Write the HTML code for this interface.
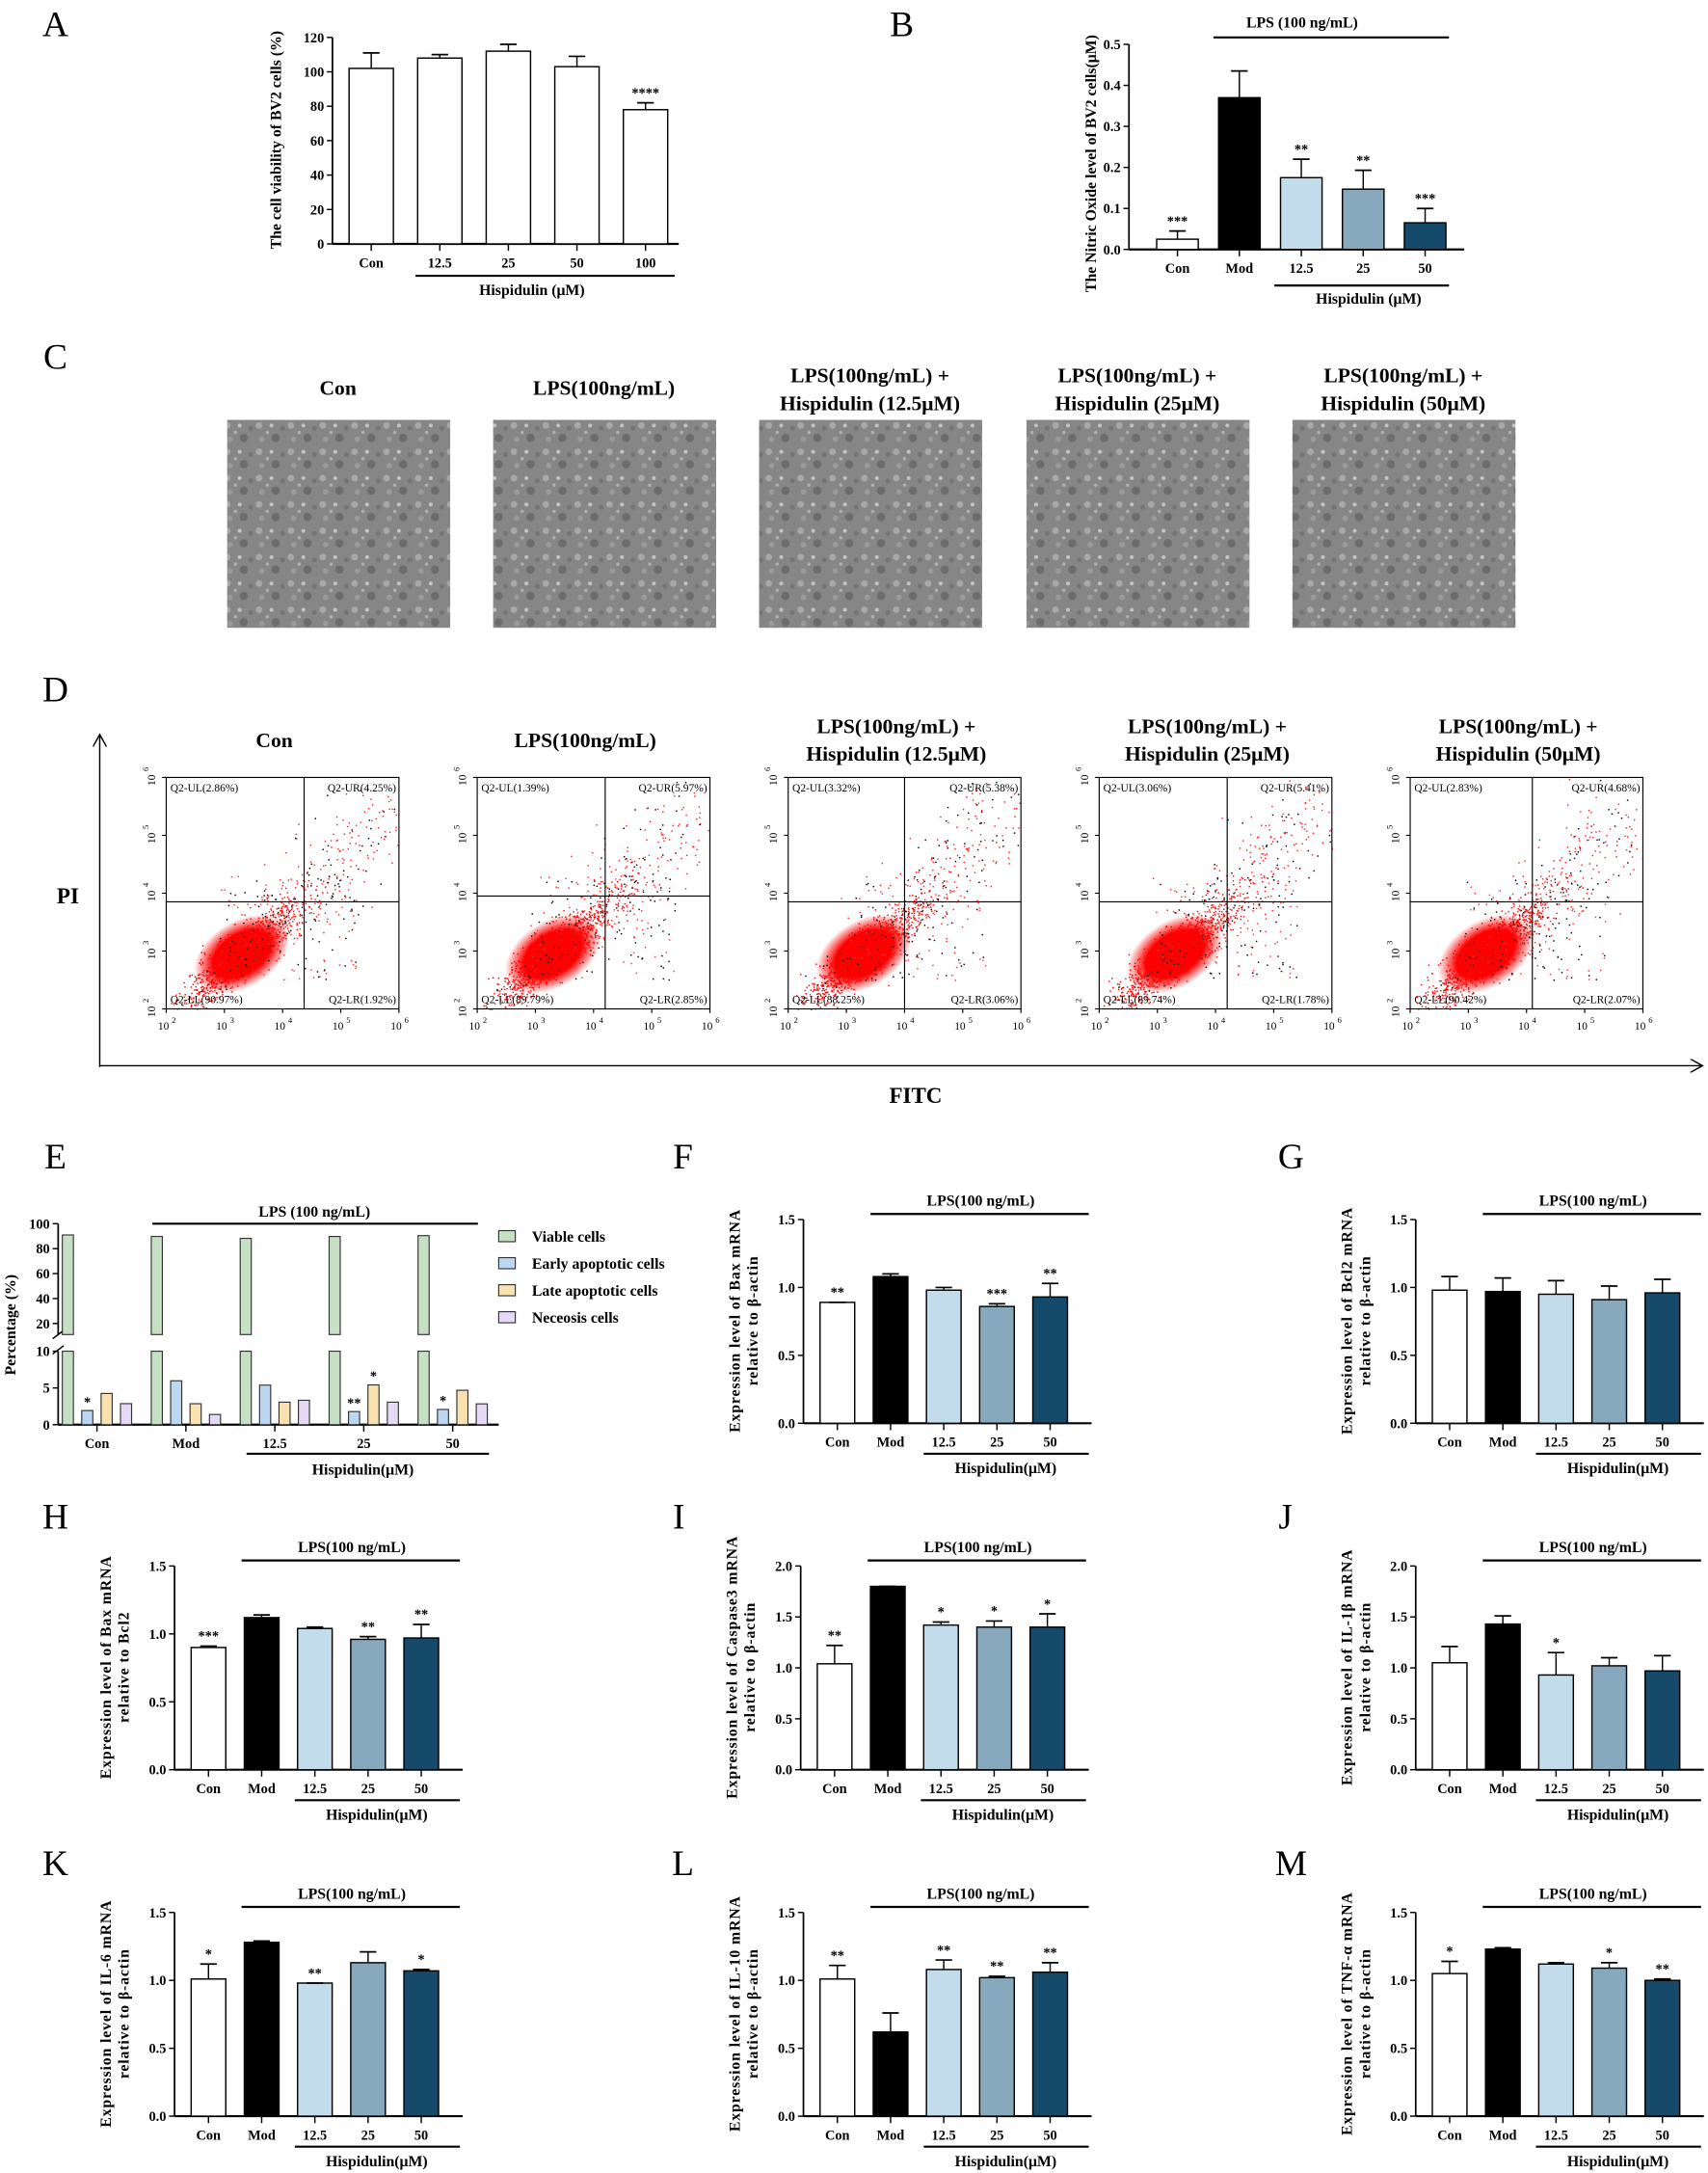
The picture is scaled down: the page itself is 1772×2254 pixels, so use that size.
<!DOCTYPE html>
<html><head><meta charset="utf-8"><style>
html,body{margin:0;padding:0;background:#fff}
svg{display:block}
text{font-family:"Liberation Serif",serif;fill:#000}
</style></head><body>
<svg id="fig" xmlns="http://www.w3.org/2000/svg" width="1772" height="2254" viewBox="0 0 1233 1568" preserveAspectRatio="none">
<defs>
<pattern id="cells" width="23" height="19" patternUnits="userSpaceOnUse">
<rect width="23" height="19" fill="#868686"/>
<circle cx="3" cy="3" r="2.4" fill="#a8a8a8"/><circle cx="15" cy="12" r="3" fill="#6c6c6c"/>
<circle cx="12" cy="3" r="1.4" fill="#c4c4c4"/><circle cx="5" cy="13" r="2" fill="#9a9a9a"/>
<circle cx="20" cy="5" r="1.8" fill="#757575"/><circle cx="9" cy="8" r="1.2" fill="#b0b0b0"/>
</pattern>
<radialGradient id="blob"><stop offset="0" stop-color="#ff0000"/><stop offset="0.6" stop-color="#ff0000"/><stop offset="1" stop-color="#ff0000" stop-opacity="0"/></radialGradient>
<marker id="ah" markerWidth="10" markerHeight="10" refX="9" refY="5" orient="auto" markerUnits="userSpaceOnUse"><path d="M0,0 L9,5 L0,10" fill="none" stroke="#000" stroke-width="1"/></marker>
</defs>
<g id="root"></g>
</svg>
<script>
// ---------- DATA ----------
const aCats=["Con","12.5","25","50","100"];
const aVals=[102,108,112,103,78];
const aErrs=[111,110,116,109,82];
const aStars=["","","","","****"];
const aTicks=[0,20,40,60,80,100,120];

const bCats=["Con","Mod","12.5","25","50"];
const bVals=[0.025,0.37,0.175,0.147,0.065];
const bErrs=[0.045,0.435,0.22,0.193,0.10];
const bStars=["***","","**","**","***"];
const bTicks=[0,0.1,0.2,0.3,0.4,0.5];

const eGroups=["Con","Mod","12.5","25","50"];
const eSeries=["Viable cells","Early apoptotic cells","Late apoptotic cells","Neceosis cells"];
const eViable=[90.97,89.79,88.25,89.74,90.42];
const eEarly=[1.92,5.97,5.38,1.78,2.07];
const eLate=[4.25,2.85,3.06,5.41,4.68];
const eNecro=[2.86,1.39,3.32,3.06,2.83];
const eStarsEarly=["*","","","**","*"];
const eStarsLate=["","","","*",""];
const eUpperTicks=[20,40,60,80,100];
const eLowerTicks=[0,5,10];

const qCats=["Con","Mod","12.5","25","50"];
const fVals=[0.89,1.08,0.98,0.86,0.93]; const fErrs=[0.89,1.10,1.00,0.88,1.03]; const fStars=["**","","","***","**"];
const gVals=[0.98,0.97,0.95,0.91,0.96]; const gErrs=[1.08,1.07,1.05,1.01,1.06]; const gStars=["","","","",""];
const hVals=[0.90,1.12,1.04,0.96,0.97]; const hErrs=[0.91,1.14,1.05,0.98,1.07]; const hStars=["***","","","**","**"];
const iVals=[1.04,1.80,1.42,1.40,1.40]; const iErrs=[1.22,1.80,1.45,1.46,1.53]; const iStars=["**","","*","*","*"];
const jVals=[1.05,1.43,0.93,1.02,0.97]; const jErrs=[1.21,1.51,1.15,1.10,1.12]; const jStars=["","","*","",""];
const kVals=[1.01,1.28,0.98,1.13,1.07]; const kErrs=[1.12,1.29,0.98,1.21,1.08]; const kStars=["*","","**","","*"];
const lVals=[1.01,0.62,1.08,1.02,1.06]; const lErrs=[1.11,0.76,1.15,1.03,1.13]; const lStars=["**","","**","**","**"];
const mVals=[1.05,1.23,1.12,1.09,1.00]; const mErrs=[1.14,1.24,1.13,1.13,1.01]; const mStars=["*","","","*","**"];
const ticks15=[0,0.5,1.0,1.5];
const ticks20=[0,0.5,1.0,1.5,2.0];

const flowTitles=[["Con"],["LPS(100ng/mL)"],["LPS(100ng/mL) +","Hispidulin (12.5μM)"],["LPS(100ng/mL) +","Hispidulin (25μM)"],["LPS(100ng/mL) +","Hispidulin (50μM)"]];
const flowUL=[2.86,1.39,3.32,3.06,2.83];
const flowUR=[4.25,5.97,5.38,5.41,4.68];
const flowLL=[90.97,89.79,88.25,89.74,90.42];
const flowLR=[1.92,2.85,3.06,1.78,2.07];
const flowGateX=[4.37,4.2,4.0,4.2,4.1];
const flowGateY=[3.85,3.95,3.85,3.85,3.85];

// ---------- HELPERS ----------
const NS="http://www.w3.org/2000/svg";
const root=document.getElementById('root');
function el(tag,attrs,parent,txt){const e=document.createElementNS(NS,tag);for(const k in attrs)e.setAttribute(k,attrs[k]);if(txt!==undefined)e.textContent=txt;(parent||root).appendChild(e);return e;}
function line(x1,y1,x2,y2,w,p,c){return el('line',{x1,y1,x2,y2,stroke:c||'#000','stroke-width':w||1},p);}
function txt(x,y,s,size,p,anchor,bold,extra){const a={x,y,'font-size':size,'text-anchor':anchor||'middle'};if(bold)a['font-weight']='bold';if(extra)for(const k in extra)a[k]=extra[k];return el('text',a,p,s);}
function group(name){const g=el('g',{});return g;}

[["A",40,26],["B",651,26],["C",40,266],["D",40,506],["E",40,843],["F",493,843],["G",932,843],["H",40,1103],["I",490,1103],["J",928,1103],["K",40,1353],["L",493,1353],["M",932,1353]].forEach(l=>{
  const t=txt(l[1],l[2],l[0],26,root,'middle',false);
  
  
});

// ---------- PANEL A ----------
(function(){
  const g=group('panel-a-viability-chart');
  const ax=240,y0=176,yTop=27,max=120;
  const ys=v=>y0-(v/max)*(y0-yTop);
  const xs=i=>252+i*49.5;
  line(ax,yTop,ax,y0,1.2,g);line(ax,y0,490,y0,1.5,g);
  aTicks.forEach(t=>{line(ax-4,ys(t),ax,ys(t),1,g);txt(ax-6,ys(t)+3.5,String(t),10,g,'end',true);});
  aCats.forEach((c,i)=>{
    const x=xs(i),w=32;
    const r=el('rect',{x,y:ys(aVals[i]),width:w,height:y0-ys(aVals[i]),fill:'#fff',stroke:'#000','stroke-width':1},g);
    
    
    line(x+w/2,ys(aVals[i]),x+w/2,ys(aErrs[i]),1,g);line(x+w/2-6,ys(aErrs[i]),x+w/2+6,ys(aErrs[i]),1.2,g);
    if(aStars[i])txt(x+w/2,ys(aErrs[i])-4,aStars[i],10,g,'middle',true);
    line(x+w/2,y0,x+w/2,y0+5,1,g);
    txt(x+w/2,y0+17,c,10,g,'middle',true);
  });
  line(300,199,487,199,1.5,g);
  txt(384,213,'Hispidulin (μM)',11,g,'middle',true);
  txt(0,0,'The cell viability of BV2 cells (%)',11,g,'middle',true,{transform:'translate(203,101) rotate(-90)'});
})();

// ---------- PANEL B ----------
(function(){
  const g=group('panel-b-nitric-oxide-chart');
  const ax=815,y0=180,yTop=32,max=0.5;
  const ys=v=>y0-(v/max)*(y0-yTop);
  const xs=i=>835+i*44.7;
  const cols=['#fff','#000','#c3dcec','#87a9be','#154a6b'];
  line(ax,yTop,ax,y0,1.2,g);line(ax,y0,1057,y0,1.5,g);
  bTicks.forEach(t=>{line(ax-4,ys(t),ax,ys(t),1,g);txt(ax-6,ys(t)+3.5,t.toFixed(1),10,g,'end',true);});
  bCats.forEach((c,i)=>{
    const x=xs(i),w=30;
    const r=el('rect',{x,y:ys(bVals[i]),width:w,height:y0-ys(bVals[i]),fill:cols[i],stroke:'#000','stroke-width':1},g);
    
    
    line(x+w/2,ys(bVals[i]),x+w/2,ys(bErrs[i]),1,g);line(x+w/2-6,ys(bErrs[i]),x+w/2+6,ys(bErrs[i]),1.2,g);
    if(bStars[i])txt(x+w/2,ys(bErrs[i])-4,bStars[i],10,g,'middle',true);
    line(x+w/2,y0,x+w/2,y0+5,1,g);
    txt(x+w/2,y0+17,c,10,g,'middle',true);
  });
  line(876,27,1046,27,1.5,g);txt(940,20,'LPS (100 ng/mL)',11,g,'middle',true);
  line(920,206,1046,206,1.5,g);txt(988,219,'Hispidulin (μM)',11,g,'middle',true);
  txt(0,0,'The Nitric Oxide level of BV2 cells(μM)',11,g,'middle',true,{transform:'translate(791,118) rotate(-90)'});
})();

// ---------- PANEL C ----------
(function(){
  const g=group('panel-c-micrographs');
  const xs=[164,356,548,741,933];
  const titles=[["Con"],["LPS(100ng/mL)"],["LPS(100ng/mL) +","Hispidulin (12.5μM)"],["LPS(100ng/mL) +","Hispidulin (25μM)"],["LPS(100ng/mL) +","Hispidulin (50μM)"]];
  xs.forEach((x,i)=>{
    const r=el('rect',{x,y:303,width:161,height:150,fill:'url(#cells)'},g);
    
    
    const t=titles[i];
    if(t.length===1)txt(x+80,285,t[0],15,g,'middle',true);
    else{txt(x+80,276,t[0],15,g,'middle',true);txt(x+80,296,t[1],15,g,'middle',true);}
  });
})();

// ---------- PANEL D ----------
(function(){
  const g=group('panel-d-flow-cytometry');
  line(72,770,72,530,1,g).setAttribute('marker-end','url(#ah)');
  line(72,769,1229,769,1,g).setAttribute('marker-end','url(#ah)');
  txt(49,652,'PI',16,g,'middle',true);
  txt(661,796,'FITC',16,g,'middle',true);
  let seed=7;const rnd=()=>{seed=(seed*16807)%2147483647;return seed/2147483647;};
  const gauss=()=>{let u=rnd()||1e-6,v=rnd();return Math.sqrt(-2*Math.log(u))*Math.cos(2*Math.PI*v);};
  for(let p=0;p<5;p++){
    const pg=group('flow-plot-'+(p+1));g.appendChild(pg);
    const x0=120+p*224.5,x1=x0+168,yt=561,yb=728;
    const X=v=>x0+(v-2)/4*(x1-x0), Y=v=>yb-(v-2)/4*(yb-yt);
    const t=flowTitles[p];
    if(t.length===1)txt(x0+78,539,t[0],15,pg,'middle',true);
    else{txt(x0+78,529,t[0],15,pg,'middle',true);txt(x0+78,549,t[1],15,pg,'middle',true);}
    el('ellipse',{cx:X(3.3),cy:Y(2.95),rx:38,ry:24,fill:'url(#blob)',transform:`rotate(-32 ${X(3.3)} ${Y(2.95)})`},pg);
    for(let k=0;k<1100;k++){
      const a=gauss(),b=gauss();
      const lx=3.3+0.5*a+0.12*b, ly=2.95+0.35*a+0.3*b;
      if(lx<2||lx>6||ly<2||ly>6)continue;
      el('rect',{x:X(lx),y:Y(ly),width:1,height:1,fill:(k%25===0)?'#000':'#ff0000'},pg);
    }
    for(let k=0;k<230;k++){
      const tt=rnd();const lx=3.8+tt*2.1+gauss()*0.35, ly=3.5+tt*2.0+gauss()*0.4;
      if(lx<2||lx>6||ly<2||ly>6)continue;
      el('rect',{x:X(lx),y:Y(ly),width:1,height:1,fill:(k%4===0)?'#000':'#ff2020'},pg);
    }
    for(let k=0;k<140;k++){
      const lx=2.9+rnd()*2.5, ly=2.5+rnd()*1.8;
      el('rect',{x:X(lx),y:Y(ly),width:1,height:1,fill:(k%2)?'#000':'#ff3030'},pg);
    }
    el('rect',{x:x0,y:yt,width:x1-x0,height:yb-yt,fill:'none',stroke:'#000','stroke-width':0.8},pg);
    line(X(flowGateX[p]),yt,X(flowGateX[p]),yb,0.8,pg);
    line(x0,Y(flowGateY[p]),x1,Y(flowGateY[p]),0.8,pg);
    txt(x0+3,yt+10,'Q2-UL('+flowUL[p]+'%)',8,pg,'start',false,{'font-family':'Liberation Sans'});
    txt(x1-2,yt+10,'Q2-UR('+flowUR[p]+'%)',8,pg,'end',false,{'font-family':'Liberation Sans'});
    txt(x0+3,yb-4,'Q2-LL('+flowLL[p]+'%)',8,pg,'start',false,{'font-family':'Liberation Sans'});
    txt(x1-2,yb-4,'Q2-LR('+flowLR[p]+'%)',8,pg,'end',false,{'font-family':'Liberation Sans'});
    for(let e=2;e<=6;e++){
      txt(X(e)-2,yb+15,'10',8,pg,'middle',false,{'font-family':'Liberation Sans'});
      txt(X(e)+4,yb+10,String(e),6,pg,'start',false,{'font-family':'Liberation Sans'});
      line(X(e),yb,X(e),yb+3,0.8,pg);
      txt(0,0,'10',8,pg,'middle',false,{'font-family':'Liberation Sans',transform:`translate(${x0-8},${Y(e)+2}) rotate(-90)`});
      txt(0,0,String(e),6,pg,'middle',false,{'font-family':'Liberation Sans',transform:`translate(${x0-13},${Y(e)-6}) rotate(-90)`});
      line(x0-3,Y(e),x0,Y(e),0.8,pg);
    }
  }
})();

// ---------- PANEL E ----------
(function(){
  const g=group('panel-e-apoptosis-chart');
  const ax=42,y0=1028,yLowTop=975,uy20=955,uy100=883;
  const yL=v=>y0-v/10*(y0-yLowTop);
  const yU=v=>uy20-(v-20)/80*(uy20-uy100);
  const cols=['#c6e0c4','#bcd7f2','#f9e2b0','#e6d9f5'];
  const series=[eViable,eEarly,eLate,eNecro];
  const gx=i=>70+i*64.2;
  line(ax,uy100,ax,963,1.2,g);line(ax,yLowTop,ax,y0,1.2,g);line(ax,y0,360,y0,1.5,g);
  line(ax-4,966,ax+4,960,1,g);line(ax-4,977,ax+4,971,1,g);
  eUpperTicks.forEach(t=>{line(ax-4,yU(t),ax,yU(t),1,g);txt(ax-6,yU(t)+3.5,String(t),10,g,'end',true);});
  eLowerTicks.forEach(t=>{line(ax-4,yL(t),ax,yL(t),1,g);txt(ax-6,yL(t)+3.5,String(t),10,g,'end',true);});
  eGroups.forEach((c,i)=>{
    series.forEach((s,j)=>{
      const x=gx(i)-25+j*14,w=8,v=s[i];
      if(v>10){
        const r1=el('rect',{x,y:yLowTop,width:w,height:y0-yLowTop,fill:cols[j],stroke:'#333','stroke-width':0.8},g);
        
        
        const r2=el('rect',{x,y:yU(v),width:w,height:963-yU(v),fill:cols[j],stroke:'#333','stroke-width':0.8},g);
        
        
      } else {
        const r=el('rect',{x,y:yL(v),width:w,height:y0-yL(v),fill:cols[j],stroke:'#333','stroke-width':0.8},g);
        
        
      }
    });
    if(eStarsEarly[i])txt(gx(i)-7,yL(eEarly[i])-3,eStarsEarly[i],10,g,'middle',true);
    if(eStarsLate[i])txt(gx(i)+7,yL(eLate[i])-3,eStarsLate[i],10,g,'middle',true);
    line(gx(i),y0,gx(i),y0+5,1,g);
    txt(gx(i),y0+17,c,10,g,'middle',true);
  });
  line(110,883,345,883,1.5,g);txt(227,878,'LPS (100 ng/mL)',11,g,'middle',true);
  line(178,1049,353,1049,1.5,g);txt(262,1064,'Hispidulin(μM)',11,g,'middle',true);
  txt(0,0,'Percentage (%)',11,g,'middle',true,{transform:'translate(11,956) rotate(-90)'});
  eSeries.forEach((s,j)=>{
    const y=893+j*19.5;
    const r=el('rect',{x:360,y:y-5,width:12,height:8,fill:cols[j],stroke:'#333','stroke-width':0.8},g);
    
    
    txt(384,y+3,s,11,g,'start',true);
  });
})();

// ---------- qPCR PANELS ----------
function qpanel(name,ax,y0,max,ticks,vals,errs,stars,t1,t2){
  const g=group(name);
  const yTop=y0-147;
  const ys=v=>y0-(v/max)*147;
  const xs=i=>ax+12+i*38.4;
  const cols=['#fff','#000','#c3dcec','#87a9be','#154a6b'];
  line(ax,yTop,ax,y0,1.2,g);line(ax,y0,ax+208,y0,1.5,g);
  ticks.forEach(t=>{line(ax-4,ys(t),ax,ys(t),1,g);txt(ax-6,ys(t)+3.5,t.toFixed(1),10,g,'end',true);});
  qCats.forEach((c,i)=>{
    const x=xs(i),w=25;
    const r=el('rect',{x,y:ys(vals[i]),width:w,height:y0-ys(vals[i]),fill:cols[i],stroke:'#000','stroke-width':1},g);
    
    
    line(x+w/2,ys(vals[i]),x+w/2,ys(errs[i]),1,g);line(x+w/2-6,ys(errs[i]),x+w/2+6,ys(errs[i]),1.2,g);
    if(stars[i])txt(x+w/2,ys(errs[i])-4,stars[i],10,g,'middle',true);
    line(x+w/2,y0,x+w/2,y0+5,1,g);
    txt(x+w/2,y0+17,c,10,g,'middle',true);
  });
  line(xs(1)-2,y0-151,ax+206,y0-151,1.5,g);txt(ax+128,y0-157,'LPS(100 ng/mL)',11,g,'middle',true);
  line(xs(2)-2,y0+22,ax+206,y0+22,1.5,g);txt(ax+146,y0+36,'Hispidulin(μM)',11,g,'middle',true);
  const cy=y0-74;
  txt(0,0,t1,11,g,'middle',true,{transform:`translate(${ax-46},${cy}) rotate(-90)`,'letter-spacing':'0.6'});
  txt(0,0,t2,11,g,'middle',true,{transform:`translate(${ax-33},${cy}) rotate(-90)`,'letter-spacing':'0.6'});
}
qpanel('panel-f-bax-chart',580,1027,1.5,ticks15,fVals,fErrs,fStars,'Expression level of Bax mRNA','relative to β-actin');
qpanel('panel-g-bcl2-chart',1022,1027,1.5,ticks15,gVals,gErrs,gStars,'Expression level of Bcl2 mRNA','relative to β-actin');
qpanel('panel-h-bax-bcl2-chart',126,1277,1.5,ticks15,hVals,hErrs,hStars,'Expression level of Bax mRNA','relative to Bcl2');
qpanel('panel-i-caspase3-chart',578,1277,2.0,ticks20,iVals,iErrs,iStars,'Expression level of Caspase3 mRNA','relative to β-actin');
qpanel('panel-j-il1b-chart',1022,1277,2.0,ticks20,jVals,jErrs,jStars,'Expression level of IL-1β mRNA','relative to β-actin');
qpanel('panel-k-il6-chart',126,1527,1.5,ticks15,kVals,kErrs,kStars,'Expression level of IL-6 mRNA','relative to β-actin');
qpanel('panel-l-il10-chart',580,1527,1.5,ticks15,lVals,lErrs,lStars,'Expression level of IL-10 mRNA','relative to β-actin');
qpanel('panel-m-tnfa-chart',1022,1527,1.5,ticks15,mVals,mErrs,mStars,'Expression level of TNF-α mRNA','relative to β-actin');
</script>
</body></html>
